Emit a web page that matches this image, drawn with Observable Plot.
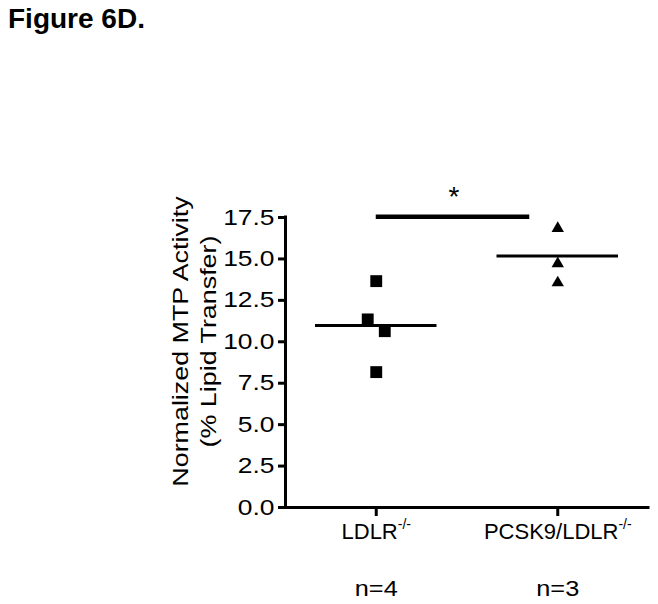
<!DOCTYPE html>
<html>
<head>
<meta charset="utf-8">
<script src="https://cdn.jsdelivr.net/npm/d3@7"></script>
<script src="https://cdn.jsdelivr.net/npm/@observablehq/plot@0.6"></script>
<style>
  body { margin: 0; background: white; }
  #title { margin: 0; padding: 5px 0 0 8px; height: 35px; font: bold 28px/28px "Liberation Sans", Arial, sans-serif; color: #000; }
  #chart svg { display: block; }
</style>
</head>
<body>
<div id="title">Figure 6D.</div>
<div id="chart"></div>
<script>
// ---- data ----
const groups = ["LDLR-/-", "PCSK9/LDLR-/-"];
const ldlrValues = [13.66, 11.35, 10.64, 8.17];
const pcsk9Values = [16.84, 14.72, 13.56];
const groupMeans = [10.98, 15.17];
const nLabels = ["n=4", "n=3"];
const yTicks = [0, 2.5, 5, 7.5, 10, 12.5, 15, 17.5];
const comparisons = [{from: 0, to: 1, y: 17.55, label: "*"}];
const yLabel = "Normalized MTP Activity\n(% Lipid Transfer)";

// ---- build point table with a simple symmetric dodge for overlapping points ----
function spread(values, group, gap, step) {
  const sorted = values.map((v, k) => ({v, k})).sort((a, b) => b.v - a.v);
  const clusters = [];
  for (const p of sorted) {
    const last = clusters[clusters.length - 1];
    if (last && last[last.length - 1].v - p.v < gap) last.push(p); else clusters.push([p]);
  }
  const out = [];
  for (const c of clusters) c.forEach((p, j) => out.push({group, value: p.v, x: group + (j - (c.length - 1) / 2) * step}));
  return out;
}
const ldlrPoints = spread(ldlrValues, 0, 1, 0.094);
const pcsk9Points = spread(pcsk9Values, 1, 1, 0.094);

const font = "'Liberation Sans', Arial, sans-serif";

const chart = Plot.plot({
  width: 658,
  height: 564,
  marginLeft: 285,
  marginRight: 10,
  marginTop: 177,
  marginBottom: 97,
  style: {fontFamily: font, fontSize: "22px", background: "white", color: "black", overflow: "visible"},
  x: {type: "linear", domain: [-0.5, 1.5], axis: null},
  y: {domain: [0, 17.5], axis: null},
  marks: [
    Plot.axisY({ticks: yTicks, tickFormat: d3.format(".1f"), tickSize: 7, tickPadding: 4, strokeWidth: 3, fontSize: 22, label: null}),
    Plot.axisX({ticks: [0, 1], tickFormat: i => groups[i], tickSize: 9, tickPadding: 7, strokeWidth: 3, fontSize: 22, label: null}),
    Plot.ruleX([-0.5], {strokeWidth: 3, strokeLinecap: "square"}),
    Plot.ruleY([0], {strokeWidth: 3, strokeLinecap: "square"}),
    Plot.text([yLabel], {frameAnchor: "left", textAnchor: "middle", rotate: -90, dx: -70, dy: -21, lineAnchor: "bottom", lineHeight: 1.23, fontSize: 22}),
    Plot.ruleY(groupMeans, {y: d => d, x1: (d, i) => i - 0.5, x2: (d, i) => i + 0.5, insetLeft: 30, insetRight: 30, strokeWidth: 3}),
    Plot.dot(ldlrPoints, {x: "x", y: "value", symbol: "square", r: 6.7, fill: "black", stroke: null}),
    Plot.dot(pcsk9Points, {x: "x", y: "value", symbol: "triangle", r: 4.6, fill: "black", stroke: null}),
    Plot.ruleY(comparisons, {y: "y", x1: "from", x2: "to", insetRight: 28, strokeWidth: 4.5}),
    Plot.text(comparisons, {x: d => (d.from + d.to) / 2, y: "y", text: "label", dx: -13, dy: -11, lineAnchor: "bottom", fontSize: 28}),
    Plot.text(nLabels, {x: (d, i) => i, text: d => d, frameAnchor: "bottom", dy: 88, lineAnchor: "bottom", fontSize: 22})
  ]
});

document.getElementById("chart").appendChild(chart);

// superscript genotype suffix in x tick labels
d3.select(chart).selectAll('g[aria-label="x-axis tick label"] text').each(function() {
  const s = this.textContent;
  const m = s.match(/^(.*?)(-\/-)$/);
  if (!m) return;
  const t = d3.select(this);
  t.text(null);
  t.append("tspan").text(m[1]);
  t.append("tspan").attr("dy", -10).attr("font-size", 14).text(m[2]);
});

// the reference typeface renders wider than Arial in places: widen glyphs to match
function widen(selector, factorOf) {
  d3.select(chart).selectAll(selector).each(function() {
    const factor = factorOf(this.textContent);
    if (factor === 1) return;
    const lines = Array.from(this.children).filter(c => c.tagName === "tspan" && c.hasAttribute("x"));
    const targets = lines.length ? lines : [this];
    for (const el of targets) {
      const len = el.getComputedTextLength();
      if (len > 0) {
        el.setAttribute("textLength", (len * factor).toFixed(2));
        el.setAttribute("lengthAdjust", "spacingAndGlyphs");
      }
    }
  });
}
widen('g[aria-label="y-axis tick label"] text', () => 1.2);
widen('g[aria-label="text"] text', s => s.startsWith("n=") ? 1.15 : s === "*" ? 1 : 1.22);
</script>
</body>
</html>
